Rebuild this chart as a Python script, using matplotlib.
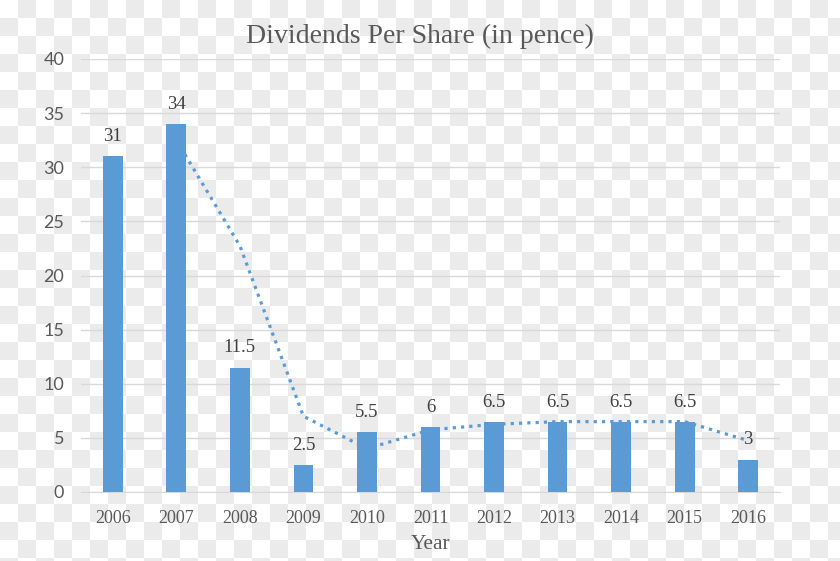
import numpy as np
import matplotlib.pyplot as plt
from matplotlib.colors import ListedColormap

years = ['2006', '2007', '2008', '2009', '2010', '2011',
         '2012', '2013', '2014', '2015', '2016']
dividends = [31, 34, 11.5, 2.5, 5.5, 6, 6.5, 6.5, 6.5, 6.5, 3]
# 2-period moving average trendline (2007..2016)
trend_values = [32.5, 22.75, 7, 4, 5.75, 6.25, 6.5, 6.5, 6.5, 4.75]

BLUE = '#5b9bd5'
SERIF = 'Liberation Serif'
SANS = 'Lato'

fig = plt.figure(figsize=(8.4, 5.61), dpi=100)

# checkered background
bg = fig.add_axes([0, 0, 1, 1], zorder=0)
cell = 18
nx, ny = 840 // cell + 1, 561 // cell + 1
board = (np.add.outer(np.arange(ny), np.arange(nx)) % 2)
bg.imshow(board, cmap=ListedColormap(['#ffffff', '#ebebeb']),
          extent=[0, nx * cell, ny * cell, 0], interpolation='nearest')
bg.set_xlim(0, 840)
bg.set_ylim(561, 0)
bg.axis('off')

ax = fig.add_axes([81 / 840, 1 - 492 / 561, 699 / 840, 433 / 561], zorder=1)
ax.set_facecolor('none')

x = np.arange(len(years))
ax.bar(x, dividends, width=0.31, color=BLUE, zorder=3)
ax.plot(x[1:], trend_values, color=BLUE, linestyle=(0, (1, 1.6)),
        linewidth=2.3, zorder=4)

for xi, v in zip(x, dividends):
    ax.annotate(f'{v:g}', (xi, v), xytext=(0, 8), textcoords='offset points',
                ha='center', va='bottom', fontsize=13.5, family=SERIF,
                color='#404040', zorder=5)

ax.set_xlim(-0.5, len(years) - 0.5)
ax.set_ylim(0, 40)
ax.set_yticks(range(0, 41, 5))
ax.set_xticks(x)
ax.set_xticklabels(years, family=SERIF, fontsize=13, color='#595959')
for lbl in ax.get_yticklabels():
    lbl.set_family(SANS)
    lbl.set_fontsize(13)
    lbl.set_color('#595959')

ax.grid(axis='y', color='#d9d9d9', linewidth=1, zorder=0)
for side in ['top', 'right', 'left']:
    ax.spines[side].set_visible(False)
ax.spines['bottom'].set_color('#d9d9d9')
ax.tick_params(axis='both', length=0)
ax.tick_params(axis='x', pad=13)
ax.tick_params(axis='y', pad=12)

ax.set_xlabel('Year', family=SERIF, fontsize=15.5, color='#595959', labelpad=6)
fig.text(0.5, 1 - 36 / 561, 'Dividends Per Share (in pence)', family=SERIF,
         fontsize=20, color='#595959', ha='center', va='center')

fig.savefig('out.png', dpi=100)
plt.close(fig)
